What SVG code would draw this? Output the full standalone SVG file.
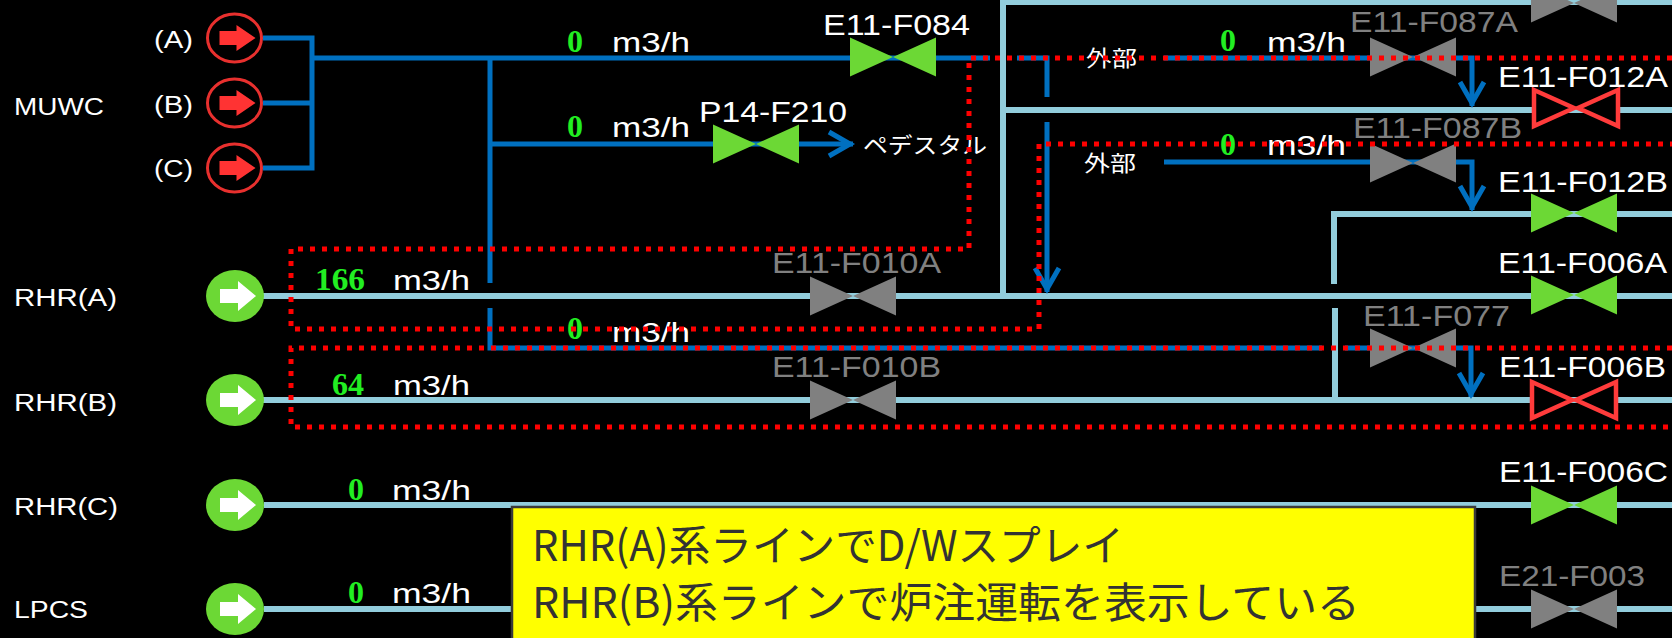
<svg xmlns="http://www.w3.org/2000/svg" xmlns:xlink="http://www.w3.org/1999/xlink" width="1672" height="638" viewBox="0 0 1672 638">
<style>
.lb{fill:none;stroke:#92CDDC;stroke-width:6}
.bl{fill:none;stroke:#0070C0;stroke-width:5}
.rd{fill:none;stroke:#FF0000;stroke-width:5;stroke-dasharray:5 7}
.lab{fill:#FFFFFF;font-family:"Liberation Sans",Arial,sans-serif;font-size:23px}
.vl{font-family:"Liberation Sans",Arial,sans-serif;font-size:30px}
.w{fill:#FFFFFF}
.gy{fill:#808080}
.num{fill:#22EE22;font-family:"Liberation Serif","Times New Roman",serif;font-size:32px;font-weight:bold}
.unit{fill:#FFFFFF;font-family:"Liberation Sans",Arial,sans-serif;font-size:27px}
.jp{fill:#FFFFFF;font-family:"Noto Sans CJK JP",sans-serif;font-size:22px}
.vg{fill:#6CD835}
.vgr{fill:#808080}
.note{fill:#333333;font-family:"Noto Sans CJK JP",sans-serif;font-size:42px}
</style>
<defs>
<polygon id="valve" points="-43,-19.5 0,0 43,-19.5 43,19.5 0,0 -43,19.5"/>
<g id="valveR" fill="#000000" stroke="#FF3B3B" stroke-width="4.5" stroke-linejoin="miter">
<polygon points="-42,-18 -2,0 -42,18"/>
<polygon points="42,-18 2,0 42,18"/>
</g>
<g id="srcR">
<ellipse cx="0" cy="0" rx="27" ry="24" fill="#000000" stroke="#E8302E" stroke-width="3"/>
<polygon points="-15,-7 2,-7 2,-13 21,0 2,13 2,7 -15,7" fill="#FF3333"/>
</g>
<g id="srcG">
<ellipse cx="0" cy="0" rx="29" ry="26" fill="#6CD835"/>
<polygon points="-15,-7 3,-7 3,-15 21,0 3,15 3,7 -15,7" fill="#FFFFFF"/>
</g>
<marker id="ah" markerUnits="userSpaceOnUse" markerWidth="40" markerHeight="40" viewBox="-30 -20 40 40" refX="0" refY="0" orient="auto" overflow="visible">
<path d="M-24,-12 L-3,0 L-24,12" fill="none" stroke="#0070C0" stroke-width="5"/>
</marker>
</defs>
<rect x="0" y="0" width="1672" height="638" fill="#000000"/>

<g id="connectors">
<path class="lb" d="M1003,296 V2 H1672"/>
<path class="lb" d="M1003,110 H1672"/>
<path class="lb" d="M1334,284 V214 H1672"/>
<path class="lb" d="M263,296 H1672"/>
<path class="lb" d="M1335,308 V400"/>
<path class="lb" d="M263,400 H1672"/>
<path class="lb" d="M264,505 H1672"/>
<path class="lb" d="M264,609 H1672"/>

<path class="bl" d="M263,38 H312 M263,103 H312 M263,168 H312 M312,35.5 V170.5"/>
<path class="bl" d="M312,58 H990 M1017,58 H1047 V97"/>
<path class="bl" d="M1047,122 V292" marker-end="url(#ah)"/>
<path class="bl" d="M490,58 V283 M490,308 V348 H1322"/>
<path class="bl" d="M1345,348 H1471 V397" marker-end="url(#ah)"/>
<path class="bl" d="M490,144 H853" marker-end="url(#ah)"/>
<path class="bl" d="M1164,58 H1472 V106" marker-end="url(#ah)"/>
<path class="bl" d="M1164,162 H1472 V210" marker-end="url(#ah)"/>
</g>

<g id="MUWC">
<text class="lab" x="14" y="115" textLength="90" lengthAdjust="spacingAndGlyphs">MUWC</text>
</g>
<g id="MUWC-A"><text class="lab" x="154" y="48" textLength="39" lengthAdjust="spacingAndGlyphs" font-size="22">(A)</text><use href="#srcR" x="234.5" y="38"/></g>
<g id="MUWC-B"><text class="lab" x="154" y="113" textLength="39" lengthAdjust="spacingAndGlyphs" font-size="22">(B)</text><use href="#srcR" x="234.5" y="103"/></g>
<g id="MUWC-C"><text class="lab" x="154" y="177" textLength="39" lengthAdjust="spacingAndGlyphs" font-size="22">(C)</text><use href="#srcR" x="234.5" y="168"/></g>

<g id="RHR-A"><text class="lab" x="14" y="306" textLength="103" lengthAdjust="spacingAndGlyphs">RHR(A)</text><use href="#srcG" x="235" y="296"/></g>
<g id="RHR-B"><text class="lab" x="14" y="411" textLength="103" lengthAdjust="spacingAndGlyphs">RHR(B)</text><use href="#srcG" x="235" y="400"/></g>
<g id="RHR-C"><text class="lab" x="14" y="515" textLength="104" lengthAdjust="spacingAndGlyphs">RHR(C)</text><use href="#srcG" x="235" y="505"/></g>
<g id="LPCS"><text class="lab" x="14" y="618" textLength="74" lengthAdjust="spacingAndGlyphs">LPCS</text><use href="#srcG" x="235" y="609"/></g>

<g id="flows">
<text class="num" x="567" y="52">0</text><text class="unit" x="612" y="52" textLength="78" lengthAdjust="spacingAndGlyphs">m3/h</text>
<text class="num" x="567" y="137">0</text><text class="unit" x="612" y="137" textLength="78" lengthAdjust="spacingAndGlyphs">m3/h</text>
<text class="num" x="1220" y="51">0</text><text class="unit" x="1267" y="52" textLength="79" lengthAdjust="spacingAndGlyphs">m3/h</text>
<text class="num" x="1220" y="155">0</text><text class="unit" x="1267" y="155" textLength="79" lengthAdjust="spacingAndGlyphs">m3/h</text>
<text class="num" x="315" y="290" textLength="50" lengthAdjust="spacingAndGlyphs">166</text><text class="unit" x="393" y="290" textLength="77" lengthAdjust="spacingAndGlyphs">m3/h</text>
<text class="num" x="567" y="339">0</text><text class="unit" x="612" y="342" textLength="78" lengthAdjust="spacingAndGlyphs">m3/h</text>
<text class="num" x="332" y="395" textLength="32" lengthAdjust="spacingAndGlyphs">64</text><text class="unit" x="393" y="395" textLength="77" lengthAdjust="spacingAndGlyphs">m3/h</text>
<text class="num" x="348" y="500">0</text><text class="unit" x="392" y="500" textLength="79" lengthAdjust="spacingAndGlyphs">m3/h</text>
<text class="num" x="348" y="603">0</text><text class="unit" x="392" y="603" textLength="79" lengthAdjust="spacingAndGlyphs">m3/h</text>
</g>

<g id="ext1"><text class="jp" x="1086" y="66" textLength="51" lengthAdjust="spacingAndGlyphs">外部</text></g>
<g id="ext2"><text class="jp" x="1084" y="171" textLength="52" lengthAdjust="spacingAndGlyphs">外部</text></g>
<g id="pedestal"><text class="jp" x="863" y="153" font-size="24" textLength="124" lengthAdjust="spacingAndGlyphs">ペデスタル</text></g>

<g id="E11-F084"><use href="#valve" class="vg" x="893" y="57"/><text class="vl w" x="823" y="35" textLength="147" lengthAdjust="spacingAndGlyphs">E11-F084</text></g>
<g id="P14-F210"><use href="#valve" class="vg" x="756" y="144"/><text class="vl w" x="699" y="122" textLength="148" lengthAdjust="spacingAndGlyphs">P14-F210</text></g>
<g id="top-valve"><use href="#valve" class="vgr" x="1574" y="3"/></g>
<g id="E11-F087A"><use href="#valve" class="vgr" x="1413" y="57"/><text class="vl gy" x="1350" y="32" textLength="168" lengthAdjust="spacingAndGlyphs">E11-F087A</text></g>
<g id="E11-F012A"><use href="#valveR" x="1576" y="108"/><text class="vl w" x="1498" y="87" textLength="170" lengthAdjust="spacingAndGlyphs">E11-F012A</text></g>
<g id="E11-F087B"><use href="#valve" class="vgr" x="1413" y="163"/><text class="vl gy" x="1353" y="138" textLength="169" lengthAdjust="spacingAndGlyphs">E11-F087B</text></g>
<g id="E11-F012B"><use href="#valve" class="vg" x="1574" y="213"/><text class="vl w" x="1498" y="192" textLength="170" lengthAdjust="spacingAndGlyphs">E11-F012B</text></g>
<g id="E11-F006A"><use href="#valve" class="vg" x="1574" y="295"/><text class="vl w" x="1498" y="273" textLength="169" lengthAdjust="spacingAndGlyphs">E11-F006A</text></g>
<g id="E11-F010A"><use href="#valve" class="vgr" x="853" y="296"/><text class="vl gy" x="772" y="273" textLength="169" lengthAdjust="spacingAndGlyphs">E11-F010A</text></g>
<g id="E11-F077"><use href="#valve" class="vgr" x="1413" y="348"/><text class="vl gy" x="1363" y="326" textLength="147" lengthAdjust="spacingAndGlyphs">E11-F077</text></g>
<g id="E11-F010B"><use href="#valve" class="vgr" x="853" y="400"/><text class="vl gy" x="772" y="377" textLength="169" lengthAdjust="spacingAndGlyphs">E11-F010B</text></g>
<g id="E11-F006B"><use href="#valveR" x="1574" y="400"/><text class="vl w" x="1499" y="377" textLength="167" lengthAdjust="spacingAndGlyphs">E11-F006B</text></g>
<g id="E11-F006C"><use href="#valve" class="vg" x="1574" y="505"/><text class="vl w" x="1499" y="482" textLength="169" lengthAdjust="spacingAndGlyphs">E11-F006C</text></g>
<g id="E21-F003"><use href="#valve" class="vgr" x="1574" y="609"/><text class="vl gy" x="1499" y="586" textLength="146" lengthAdjust="spacingAndGlyphs">E21-F003</text></g>

<g id="highlights">
<path class="rd" d="M1672,58 H969 V249 H291 V329 H1039 V144 H1672"/>
<path class="rd" d="M1672,348 H291 V427 H1672"/>
</g>

<g id="note">
<rect x="512" y="507" width="963" height="140" fill="#FFFF00" stroke="#3A3A3A" stroke-width="2.5"/>
<text class="note" x="532" y="561" textLength="592" lengthAdjust="spacingAndGlyphs">RHR(A)系ラインでD/Wスプレイ</text>
<text class="note" x="532" y="618" textLength="828" lengthAdjust="spacingAndGlyphs">RHR(B)系ラインで炉注運転を表示している</text>
</g>
</svg>
